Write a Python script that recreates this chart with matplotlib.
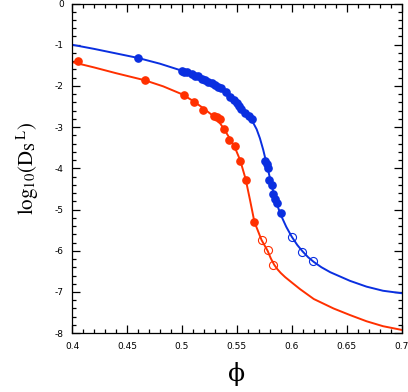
import numpy as np
import matplotlib
matplotlib.use("Agg")
import matplotlib.pyplot as plt
from matplotlib.ticker import MultipleLocator, FuncFormatter

# fitted curves
blue_x = [0.40, 0.42, 0.44, 0.46, 0.48, 0.50, 0.51, 0.52, 0.53, 0.54, 0.55, 0.555, 0.56,
          0.565, 0.568, 0.571, 0.574, 0.577, 0.580, 0.583, 0.586, 0.590, 0.595, 0.600,
          0.605, 0.610, 0.615, 0.620, 0.627, 0.635, 0.653, 0.668, 0.683, 0.700]
blue_y = [-1.00, -1.10, -1.21, -1.32, -1.46, -1.63, -1.73, -1.86, -1.98, -2.14, -2.40, -2.54, -2.70,
          -2.90, -3.05, -3.27, -3.55, -3.88, -4.22, -4.55, -4.84, -5.13, -5.42, -5.66,
          -5.86, -6.02, -6.16, -6.27, -6.40, -6.52, -6.73, -6.87, -6.97, -7.03]

red_x = [0.40, 0.42, 0.44, 0.466, 0.483, 0.50, 0.51, 0.52, 0.53, 0.534, 0.538, 0.543, 0.548,
         0.553, 0.558, 0.562, 0.566, 0.5725, 0.578, 0.581, 0.584, 0.587, 0.590, 0.594,
         0.600, 0.6075, 0.62, 0.638, 0.653, 0.668, 0.683, 0.70]
red_y = [-1.42, -1.55, -1.69, -1.86, -2.01, -2.20, -2.36, -2.55, -2.76, -2.88, -3.03, -3.25, -3.48,
         -3.80, -4.26, -4.77, -5.30, -5.74, -6.00, -6.19, -6.34, -6.45, -6.54, -6.64,
         -6.77, -6.93, -7.17, -7.40, -7.56, -7.71, -7.83, -7.92]

# simulation points
blue_fill_x = [0.4597, 0.4998, 0.502, 0.505, 0.509, 0.512, 0.515, 0.518, 0.521, 0.524,
               0.527, 0.530, 0.533, 0.536, 0.540, 0.544, 0.547, 0.550, 0.552, 0.554,
               0.557, 0.561, 0.5635, 0.576, 0.577, 0.578, 0.5796, 0.5819, 0.583,
               0.585, 0.5866, 0.590]
blue_fill_y = [-1.32, -1.63, -1.65, -1.67, -1.72, -1.75, -1.77, -1.83, -1.86, -1.90,
               -1.93, -1.98, -2.02, -2.06, -2.14, -2.26, -2.34, -2.42, -2.49, -2.55,
               -2.65, -2.73, -2.81, -3.82, -3.90, -3.98, -4.28, -4.40, -4.61,
               -4.74, -4.85, -5.09]
blue_open_x = [0.600, 0.6097, 0.6196]
blue_open_y = [-5.67, -6.02, -6.26]

red_fill_x = [0.405, 0.466, 0.5016, 0.511, 0.519, 0.5295, 0.532, 0.535, 0.538, 0.543,
              0.548, 0.553, 0.558, 0.566]
red_fill_y = [-1.39, -1.86, -2.22, -2.38, -2.59, -2.72, -2.76, -2.79, -3.05, -3.30,
              -3.45, -3.81, -4.28, -5.29]
red_open_x = [0.573, 0.578, 0.583]
red_open_y = [-5.74, -5.98, -6.34]

blue = "#0a2fe0"
red = "#ff3000"

plt.rcParams["axes.unicode_minus"] = False
plt.rcParams["mathtext.fontset"] = "stix"
fig = plt.figure(figsize=(4.08, 3.92), dpi=100)
ax = fig.add_axes([0.1765, 0.150, 0.808, 0.841])

ax.plot(blue_x, blue_y, color=blue, lw=1.4)
ax.plot(red_x, red_y, color=red, lw=1.4)
ax.plot(blue_fill_x, blue_fill_y, "o", color=blue, ms=5.2)
ax.plot(red_fill_x, red_fill_y, "o", color=red, ms=5.2)
ax.plot(blue_open_x, blue_open_y, "o", mfc="none", mec=blue, ms=5.8, mew=0.8)
ax.plot(red_open_x, red_open_y, "o", mfc="none", mec=red, ms=5.8, mew=0.8)

ax.set_xlim(0.4, 0.7)
ax.set_ylim(-8, 0)
ax.xaxis.set_major_locator(MultipleLocator(0.05))
ax.xaxis.set_minor_locator(MultipleLocator(0.01))
ax.yaxis.set_major_locator(MultipleLocator(1))
ax.yaxis.set_minor_locator(MultipleLocator(0.2))
ax.xaxis.set_major_formatter(FuncFormatter(lambda v, p: "%g" % round(v, 2)))
ax.yaxis.set_major_formatter(FuncFormatter(lambda v, p: "%g" % v))
ax.tick_params(which="both", direction="in", top=True, right=True, width=0.9)
ax.tick_params(which="major", length=6, labelsize=6.5, pad=6)
ax.tick_params(which="minor", length=3)
for s in ax.spines.values():
    s.set_linewidth(0.9)

ax.set_xlabel("\u03d5", fontsize=18, family="DejaVu Serif", labelpad=8)
ax.set_ylabel(r"$\mathrm{log}_{10}(\mathrm{D}_{\mathrm{S}}{}^{\,\mathrm{L}})$",
              fontsize=15, labelpad=10)

fig.savefig("out.png", dpi=100)
